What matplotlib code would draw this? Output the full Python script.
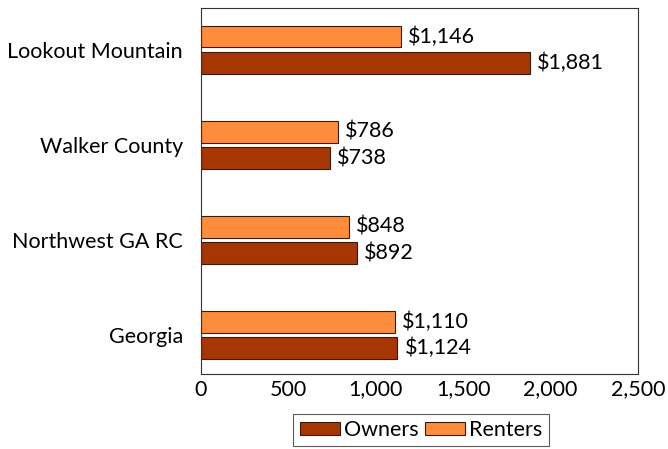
import matplotlib
matplotlib.use("Agg")
import matplotlib.pyplot as plt
import numpy as np

categories = ["Lookout Mountain", "Walker County", "Northwest GA RC", "Georgia"]
owners = [1881, 738, 892, 1124]
renters = [1146, 786, 848, 1110]
xticks = [0, 500, 1000, 1500, 2000, 2500]

plt.rcParams['font.family'] = ['Lato', 'DejaVu Sans']
fs = 15.5
fig = plt.figure(figsize=(6.68, 4.49), dpi=100)
ax = fig.add_axes([201/668, 1-374/449, 437/668, 366/449])

c_own = "#A63603"
c_rent = "#FD8D3C"
n = len(categories)
ypos = np.arange(n)[::-1].astype(float)
h = 0.23
off = 0.14
b1 = ax.barh(ypos - off, owners, height=h, color=c_own, edgecolor="#3a1a0a", linewidth=0.8, label="Owners")
b2 = ax.barh(ypos + off, renters, height=h, color=c_rent, edgecolor="#3a1a0a", linewidth=0.8, label="Renters")
for bars, vals in ((b1, owners), (b2, renters)):
    for r, v in zip(bars, vals):
        ax.text(v + 40, r.get_y() + r.get_height()/2, "\\${:,}".format(v), va="center", ha="left", fontsize=fs)

ax.set_xlim(0, 2500)
ax.set_ylim(-0.41, 3.44)
ax.set_yticks(ypos)
ax.set_yticklabels(categories, fontsize=fs)
ax.set_xticks(xticks)
ax.set_xticklabels(["{:,}".format(t) for t in xticks], fontsize=fs)
ax.tick_params(axis="y", length=0, pad=13)
ax.tick_params(axis="x", length=0, pad=4)
for s in ax.spines.values():
    s.set_color("#333333")
    s.set_linewidth(0.8)

leg = fig.legend(handles=[b1, b2], loc="center", bbox_to_anchor=(421/668, 1-430/449), ncol=2,
                 fontsize=fs, frameon=True, fancybox=False, edgecolor="#333333",
                 handlelength=1.85, handleheight=0.6, columnspacing=0.3, handletextpad=0.2, borderpad=0.3)
leg.get_frame().set_linewidth(0.8)
fig.savefig("out.png", dpi=100)
